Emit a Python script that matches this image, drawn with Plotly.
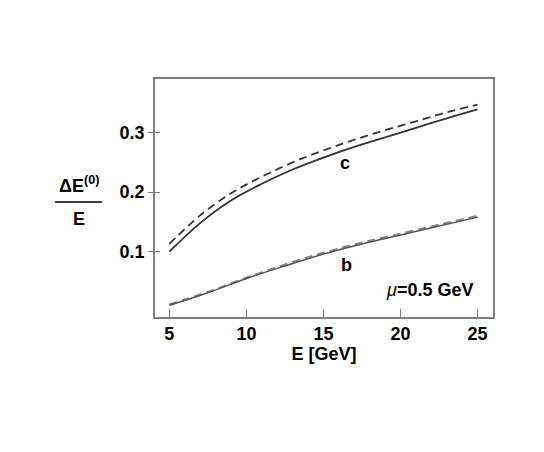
import plotly.graph_objects as go

E_c = [5, 7, 9, 11, 13, 15, 17, 19, 21, 23, 25]
c_solid = [0.100, 0.148, 0.186, 0.214, 0.238, 0.258, 0.276, 0.292, 0.308, 0.324, 0.339]
c_dash = [0.113, 0.161, 0.198, 0.226, 0.250, 0.270, 0.288, 0.304, 0.319, 0.334, 0.347]
E_b = [5, 7.5, 10, 12.5, 15, 17.5, 20, 22.5, 25]
b_solid = [0.010, 0.031, 0.055, 0.076, 0.096, 0.113, 0.128, 0.143, 0.158]
b_dash = [0.011, 0.032, 0.056, 0.078, 0.098, 0.115, 0.130, 0.145, 0.160]

x_ticks = [5, 10, 15, 20, 25]
y_ticks = [0.1, 0.2, 0.3]

FONT = "Liberation Sans, Arial, sans-serif"
AX = "#808080"

fig = go.Figure()
fig.add_trace(go.Scatter(x=E_c, y=c_dash, mode="lines", line=dict(color="#333333", width=1.8, dash="8px,5px", shape="spline")))
fig.add_trace(go.Scatter(x=E_c, y=c_solid, mode="lines", line=dict(color="#333333", width=1.8, shape="spline")))
fig.add_trace(go.Scatter(x=E_b, y=b_dash, mode="lines", line=dict(color="#888888", width=2.4, dash="8px,5px", shape="spline")))
fig.add_trace(go.Scatter(x=E_b, y=b_solid, mode="lines", line=dict(color="#555555", width=1.5, shape="spline")))
fig.add_trace(go.Scatter(x=[5], y=[0.1], yaxis="y2", mode="lines", showlegend=False, line=dict(width=0)))

xr = [4.07, 26.0]
yr = [-0.0097, 0.390]

fig.update_layout(
    width=544, height=452,
    margin=dict(l=147, r=59, t=71, b=143),
    paper_bgcolor="white", plot_bgcolor="white",
    showlegend=False,
    font=dict(family=FONT, color="black", size=18),
    xaxis=dict(range=xr, tickvals=x_ticks, ticktext=["<b>%d</b>" % v for v in x_ticks],
               ticks="inside", ticklen=8, tickcolor=AX, tickwidth=1,
               showline=True, mirror=True, linecolor=AX, linewidth=1.5, showgrid=False, zeroline=False,
               tickfont=dict(size=18, family=FONT, color="black"),
               title=dict(text="<b>E [GeV]</b>", font=dict(size=18, family=FONT), standoff=0)),
    yaxis=dict(range=yr, tickvals=y_ticks, ticktext=["<b>0.1</b>", "<b>0.2</b>", "<b>0.3</b>"],
               ticks="outside", ticklen=5, tickcolor=AX, tickwidth=1,
               showline=True, mirror=True, linecolor=AX, linewidth=1.5, showgrid=False, zeroline=False,
               tickfont=dict(size=18, family=FONT, color="black")),
    yaxis2=dict(range=yr, tickvals=y_ticks, overlaying="y", side="left", ticks="inside", ticklen=5,
                tickcolor=AX, showticklabels=False, showgrid=False, zeroline=False, showline=False),
)

fig.add_annotation(x=16.4, y=0.249, text="<b>c</b>", showarrow=False, font=dict(size=18, family=FONT))
fig.add_annotation(x=16.5, y=0.078, text="<b>b</b>", showarrow=False, font=dict(size=18, family=FONT))
fig.add_annotation(x=21.9, y=0.035, text="<i>μ</i><b>=0.5 GeV</b>", showarrow=False, font=dict(size=18, family=FONT))

fig.add_annotation(xref="paper", yref="paper", x=-0.225, y=0.555, xanchor="center", yanchor="middle",
                   text="<b>ΔE<sup>(0)</sup></b>", showarrow=False, font=dict(size=18, family=FONT))
fig.add_annotation(xref="paper", yref="paper", x=-0.225, y=0.412, xanchor="center", yanchor="middle",
                   text="<b>E</b>", showarrow=False, font=dict(size=18, family=FONT))
fig.add_shape(type="line", xref="paper", yref="paper", x0=-0.296, x1=-0.157, y0=0.483, y1=0.483,
              line=dict(color="black", width=1.5))

fig.write_html("out.html")
